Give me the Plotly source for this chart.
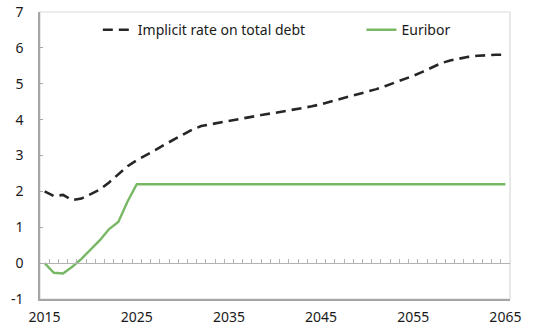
import plotly.graph_objects as go

years = list(range(2015, 2066))

implicit_rate = [
    2.00, 1.87, 1.90, 1.76, 1.80, 1.92, 2.05, 2.25, 2.47, 2.70,
    2.87, 3.00, 3.15, 3.30, 3.45, 3.58, 3.72, 3.82, 3.87, 3.92,
    3.97, 4.02, 4.07, 4.11, 4.15, 4.19, 4.23, 4.27, 4.31, 4.37,
    4.43, 4.50, 4.56, 4.62, 4.69, 4.77, 4.85, 4.94, 5.03, 5.12,
    5.22, 5.33, 5.46, 5.57, 5.65, 5.71, 5.75, 5.78, 5.80, 5.81,
    5.81,
]

euribor = [
    0.00, -0.27, -0.29, -0.10, 0.12, 0.37, 0.64, 0.95, 1.15, 1.72,
    2.20, 2.20, 2.20, 2.20, 2.20, 2.20, 2.20, 2.20, 2.20, 2.20,
    2.20, 2.20, 2.20, 2.20, 2.20, 2.20, 2.20, 2.20, 2.20, 2.20,
    2.20, 2.20, 2.20, 2.20, 2.20, 2.20, 2.20, 2.20, 2.20, 2.20,
    2.20, 2.20, 2.20, 2.20, 2.20, 2.20, 2.20, 2.20, 2.20, 2.20,
    2.20,
]

x_labels = [2015, 2025, 2035, 2045, 2055, 2065]
y_ticks = list(range(-1, 8))
y_tick_text = [str(v) for v in y_ticks]  # plain hyphen for negatives

FONT = "Noto Sans"
TEXT = "#1a1a1a"
AXIS = "#a6a6a6"
FRAME = "#d9d9d9"

fig = go.Figure()

fig.add_trace(go.Scatter(
    x=years, y=implicit_rate, mode="lines",
    name="Implicit rate on total debt",
    line=dict(color="#262626", width=2.6, dash="10px,6px"),
    legend="legend",
))

fig.add_trace(go.Scatter(
    x=years, y=euribor, mode="lines", name="Euribor",
    line=dict(color="#78b865", width=2.4),
    xaxis="x2", legend="legend2",
))

# category-boundary ticks sitting on the zero line
boundaries = [y - 0.5 for y in years] + [years[-1] + 0.5]
y_range = [-1, 7]
zero_pos = (0 - y_range[0]) / (y_range[1] - y_range[0])

fig.update_layout(
    width=547, height=328,
    margin=dict(l=40, r=37, t=12, b=29, autoexpand=False),
    paper_bgcolor="white", plot_bgcolor="white",
    font=dict(family=FONT, size=14, color=TEXT),
    showlegend=True,
    xaxis=dict(
        range=[years[0] - 0.5, years[-1] + 0.5], automargin=False,
        tickvals=x_labels, ticktext=[str(v) for v in x_labels],
        ticks="", showgrid=False, zeroline=False,
        showline=True, linecolor=AXIS, linewidth=1.5,
        ticklabelstandoff=4,
        tickfont=dict(size=14, family=FONT, color=TEXT),
    ),
    xaxis2=dict(
        overlaying="x", matches="x", anchor="free", position=zero_pos,
        side="bottom", automargin=False,
        tickvals=boundaries, ticks="inside", ticklen=4, tickwidth=1,
        tickcolor="#b3b3b3", showticklabels=False,
        showgrid=False, zeroline=False,
        showline=True, linecolor="#b3b3b3", linewidth=1,
    ),
    yaxis=dict(
        range=y_range, tickvals=y_ticks, ticktext=y_tick_text,
        automargin=False,
        ticks="inside", ticklen=3, tickcolor=AXIS,
        showgrid=False, zeroline=False,
        showline=True, linecolor=AXIS, linewidth=1.5,
        ticklabelstandoff=12,
        tickfont=dict(size=14, family=FONT, color=TEXT),
    ),
    legend=dict(
        x=0.123, y=0.937, xanchor="left", yanchor="middle",
        bgcolor="rgba(0,0,0,0)", font=dict(size=14, family=FONT, color=TEXT),
        itemwidth=30,
    ),
    legend2=dict(
        x=0.684, y=0.937, xanchor="left", yanchor="middle",
        bgcolor="rgba(0,0,0,0)", font=dict(size=14, family=FONT, color=TEXT),
        itemwidth=30,
    ),
    shapes=[dict(
        type="rect", xref="paper", yref="paper", x0=0, x1=1, y0=0, y1=1,
        line=dict(color=FRAME, width=1.2), layer="below",
    )],
)

fig.write_html("out.html")
